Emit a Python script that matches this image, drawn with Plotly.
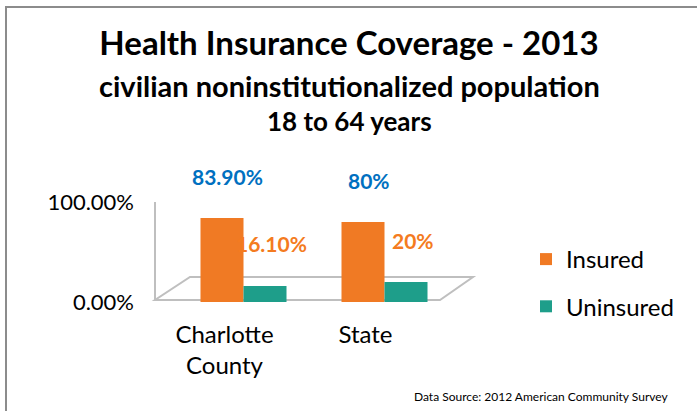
import plotly.graph_objects as go

# ---- data ----
categories = ["Charlotte<br>County", "State"]
insured = [0.839, 0.80]
uninsured = [0.161, 0.20]
insured_labels = ["83.90%", "80%"]
uninsured_labels = ["16.10%", "20%"]
ytick_vals = [0.0, 1.0]
ytick_text = ["0.00%", "100.00%"]

# ---- layout geometry (pixels) ----
W, H = 697, 411
L, R, T, B = 173, 455, 202, 302   # plot area edges in px
PW, PH = R - L, B - T

def px(x):
    return (x - L) / PW

def py(y):
    return (B - y) / PH

FONT = "Lato"
ORANGE = "#F07A24"
TEAL = "#1E9E8A"
BLUE_LBL = "#0070C0"
ORANGE_LBL = "#F47B20"

fig = go.Figure()
fig.add_trace(go.Bar(name="Insured", x=categories, y=insured,
                     marker=dict(color=ORANGE, line=dict(width=0)),
                     legendgroup="a"))
fig.add_trace(go.Bar(name="Uninsured", x=categories, y=uninsured,
                     marker=dict(color=TEAL, line=dict(width=0)),
                     legendgroup="b"))

annotations = []
for c, v, t in zip(categories, insured, insured_labels):
    annotations.append(dict(x=c, y=v, xref="x", yref="y", text=t, showarrow=False,
                            xanchor="center", yanchor="middle",
                            xshift=-16, yshift=42,
                            font=dict(family=FONT, size=21, color=BLUE_LBL, weight="bold")))
for c, v, t in zip(categories, uninsured, uninsured_labels):
    annotations.append(dict(x=c, y=v, xref="x", yref="y", text=t, showarrow=False,
                            xanchor="center", yanchor="middle",
                            xshift=28, yshift=42,
                            font=dict(family=FONT, size=21, color=ORANGE_LBL, weight="bold")))

annotations += [
    dict(x=px(349), y=py(86), xref="paper", yref="paper", showarrow=False,
         xanchor="center", yanchor="middle",
         text="civilian noninstitutionalized population",
         font=dict(family=FONT, size=29, color="#000000", weight="bold")),
    dict(x=px(349), y=py(121), xref="paper", yref="paper", showarrow=False,
         xanchor="center", yanchor="middle",
         text="18 to 64 years",
         font=dict(family=FONT, size=26, color="#000000", weight="bold")),
    dict(x=px(541), y=py(396), xref="paper", yref="paper", showarrow=False,
         xanchor="center", yanchor="middle",
         text="Data Source: 2012 American Community Survey",
         font=dict(family=FONT, size=12, color="#000000")),
]

shapes = [
    # outer frame
    dict(type="rect", xref="paper", yref="paper",
         x0=px(6), x1=px(760), y0=py(7), y1=py(460),
         line=dict(color="#8C8C8C", width=2), fillcolor="rgba(0,0,0,0)", layer="below"),
    # floor
    dict(type="path", xref="paper", yref="paper",
         path=f"M {px(155)},{py(300)} L {px(440)},{py(300)} L {px(473)},{py(277)} L {px(190)},{py(277)} Z",
         line=dict(color="#BFBFBF", width=2), fillcolor="white", layer="below"),
    # back wall edge
    dict(type="line", xref="paper", yref="paper",
         x0=px(155), x1=px(155), y0=py(300), y1=py(202),
         line=dict(color="#BFBFBF", width=2), layer="below"),
]

fig.update_layout(
    width=W, height=H,
    margin=dict(l=L, r=W - R, t=T, b=H - B, pad=0, autoexpand=False),
    paper_bgcolor="white", plot_bgcolor="rgba(0,0,0,0)",
    font=dict(family=FONT, color="#000000"),
    title=dict(text="Health Insurance Coverage - 2013", x=349 / W, xanchor="center",
               y=1 - 43 / H, yanchor="middle", xref="container", yref="container",
               font=dict(family=FONT, size=33, color="#000000", weight="bold")),
    barmode="group", bargap=0.39, bargroupgap=0,
    showlegend=True,
    legend=dict(xref="paper", yref="paper", x=px(526), y=py(237),
                xanchor="left", yanchor="top", tracegroupgap=13,
                font=dict(family=FONT, size=24, color="#000000"),
                bgcolor="rgba(0,0,0,0)"),
    xaxis=dict(showgrid=False, zeroline=False, showline=False, ticks="", automargin=False,
               tickfont=dict(family=FONT, size=24, color="#000000"),
               ticklabelstandoff=16, ticklabelshift=-19),
    yaxis=dict(range=[0, 1], showgrid=False, zeroline=False, showline=False, ticks="",
               automargin=False,
               tickvals=ytick_vals, ticktext=ytick_text,
               tickfont=dict(family=FONT, size=22, color="#000000"),
               ticklabelstandoff=38),
    annotations=annotations,
    shapes=shapes,
)

fig.write_html("out.html", config={"displayModeBar": False},
               post_script="document.body.style.margin='0';")
